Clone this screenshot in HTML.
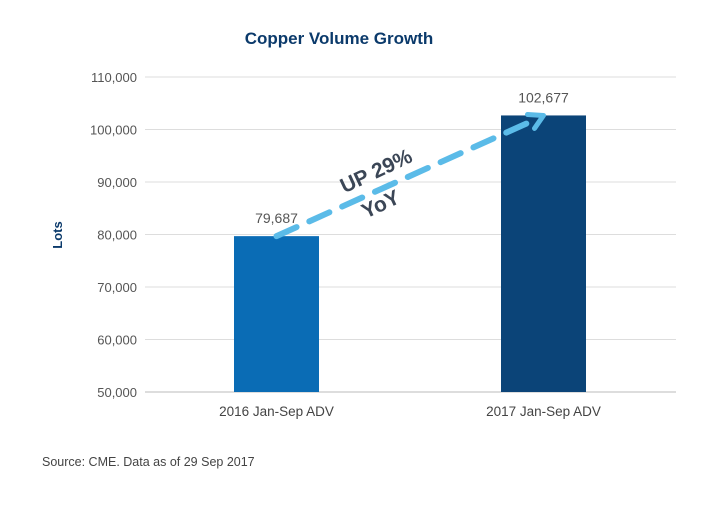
<!DOCTYPE html>
<html><head><meta charset="utf-8"><style>
body{margin:0;background:#fff;}
svg text{font-family:"Liberation Sans",sans-serif;}
</style></head><body>
<svg width="720" height="500" viewBox="0 0 720 500">
<text x="339" y="44" text-anchor="middle" font-size="17" font-weight="bold" fill="#0b3a6b">Copper Volume Growth</text>
<text transform="translate(62,235) rotate(-90)" text-anchor="middle" font-size="13" font-weight="bold" fill="#0b3a6b">Lots</text>
<g id="grid"></g><g id="bars"></g>
<g id="arrow"></g>
<g transform="translate(385,190) rotate(-25)">
<text x="0" y="-14" text-anchor="middle" font-size="21" font-weight="bold" fill="#3b4656">UP 29%</text>
<text x="-10" y="18" text-anchor="middle" font-size="21" font-weight="bold" fill="#3b4656">YoY</text>
</g>
<text x="42" y="466" font-size="12.5" fill="#444">Source: CME. Data as of 29 Sep 2017</text>
</svg>
<script>
const categories=["2016 Jan-Sep ADV","2017 Jan-Sep ADV"];
const values=[79687,102677];
const colors=["#0a6cb5","#0b4478"];
const ticks=[50000,60000,70000,80000,90000,100000,110000];
const NS="http://www.w3.org/2000/svg";
const y=v=>392-(v-50000)*52.5/10000;
const cx=i=>[276.5,543.5][i];
function mk(t,a,p){const e=document.createElementNS(NS,t);for(const k in a)e.setAttribute(k,a[k]);p.appendChild(e);return e;}
const g=document.getElementById('grid');
ticks.forEach(t=>{
const l=mk('line',{x1:145,x2:676,y1:y(t),y2:y(t),stroke:t===50000?'#bbb':'#ddd','stroke-width':1},g);


const tx=mk('text',{x:137,y:y(t)+5,'text-anchor':'end','font-size':13,fill:'#555'},g);
tx.textContent=t.toLocaleString('en-US');


});
const b=document.getElementById('bars');
values.forEach((v,i)=>{
const r=mk('rect',{x:cx(i)-42.5,y:y(v),width:85,height:392-y(v),fill:colors[i]},b);


const lt=mk('text',{x:cx(i),y:y(v)-13,'text-anchor':'middle','font-size':14,fill:'#555'},b);
lt.textContent=v.toLocaleString('en-US');


const ct=mk('text',{x:cx(i),y:416,'text-anchor':'middle','font-size':13.5,fill:'#444'},b);
ct.textContent=categories[i];


});
const a=document.getElementById('arrow');
const x1=cx(0),y1=y(values[0]),x2=cx(1),y2=y(values[1]);
mk('line',{x1:x1,y1:y1,x2:x2-8,y2:y2+4,stroke:'#5bbbe8','stroke-width':6,'stroke-dasharray':'22 14','stroke-linecap':'round'},a);
mk('polyline',{points:`${x2-16},${y2-1} ${x2},${y2} ${x2-9},${y2+13}`,fill:'none',stroke:'#5bbbe8','stroke-width':5,'stroke-linecap':'round','stroke-linejoin':'round'},a);
</script>
</body></html>
